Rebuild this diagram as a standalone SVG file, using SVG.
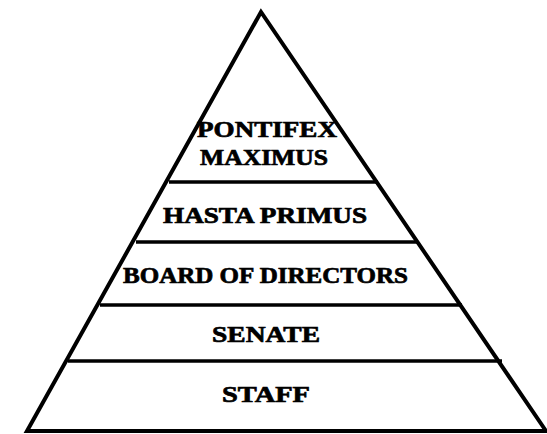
<svg xmlns="http://www.w3.org/2000/svg" width="547" height="434" viewBox="0 0 547 434">
<style>
.edge{fill:none;stroke:#000;stroke-width:4;stroke-linejoin:miter}
.tier{stroke:#000;stroke-width:3.5;fill:none}
.lbl{font-family:"Liberation Serif","Times New Roman",serif;font-weight:bold;font-size:23px;fill:#000;stroke:#000;stroke-width:0.7}
</style>
<rect width="547" height="434" fill="#fff"/>
<g id="connectors">
<polygon class="edge" points="261,12 27,431 546,431"/>
<line class="tier" x1="169" y1="182" x2="378" y2="182"/>
<line class="tier" x1="136" y1="242" x2="418" y2="242"/>
<line class="tier" x1="100" y1="305" x2="462" y2="305"/>
<line class="tier" x1="68" y1="361" x2="502" y2="361"/>
</g>
<g id="pontifex-maximus">
<text class="lbl" x="197" y="137" textLength="140" lengthAdjust="spacingAndGlyphs">PONTIFEX</text>
<text class="lbl" x="200" y="165" textLength="128" lengthAdjust="spacingAndGlyphs">MAXIMUS</text>
</g>
<g id="hasta-primus">
<text class="lbl" x="163" y="223" textLength="204" lengthAdjust="spacingAndGlyphs">HASTA PRIMUS</text>
</g>
<g id="board-of-directors">
<text class="lbl" x="123" y="283" textLength="285" lengthAdjust="spacingAndGlyphs">BOARD OF DIRECTORS</text>
</g>
<g id="senate">
<text class="lbl" x="212" y="342" textLength="108" lengthAdjust="spacingAndGlyphs">SENATE</text>
</g>
<g id="staff">
<text class="lbl" x="222" y="402" textLength="88" lengthAdjust="spacingAndGlyphs">STAFF</text>
</g>
</svg>
